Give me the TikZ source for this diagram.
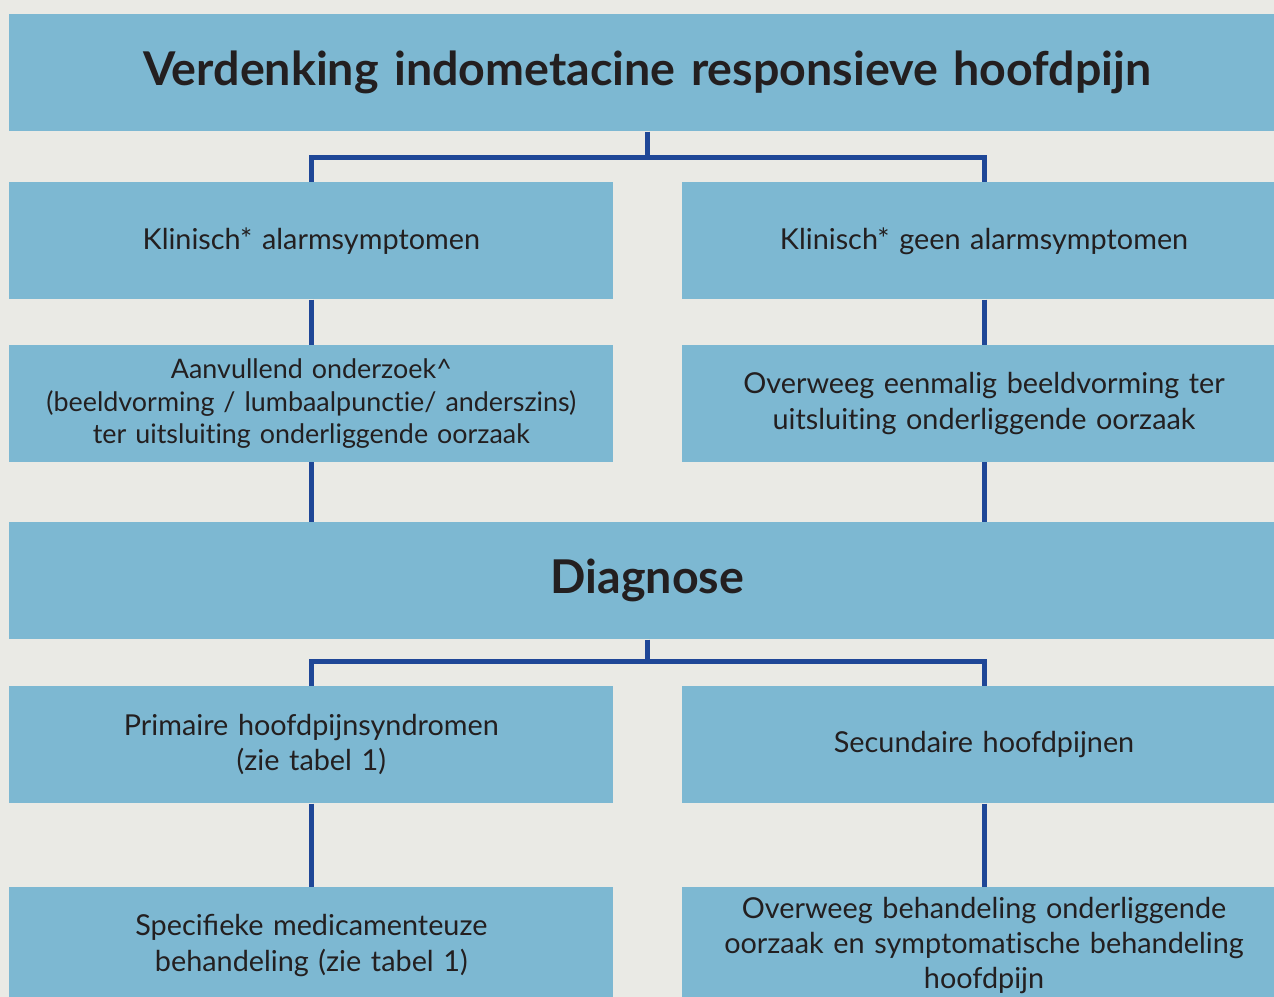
\documentclass[tikz,border=0pt]{standalone}
\usepackage{fontspec}
\setmainfont{Lato}
\usepackage{xcolor}
\usetikzlibrary{positioning,calc}
\definecolor{boxblue}{HTML}{7DB8D2}
\definecolor{linkblue}{HTML}{1F4797}
\definecolor{paper}{HTML}{EAEAE5}
\definecolor{ink}{HTML}{231F20}

\begin{document}
\begin{tikzpicture}[node distance=1.02cm and 1.36cm,
  box/.style={fill=boxblue, text=ink, inner sep=0pt, minimum height=2.34cm, text width=12.08cm, align=center, font=\fontsize{16.4}{20}\selectfont},
  wide/.style={box, text width=25.52cm, font=\fontsize{26.5}{30}\selectfont\bfseries},
  link/.style={draw=linkblue, line width=0.1cm}]
% Canvas
\fill[paper] (0,0) rectangle (25.48,-19.94);
\useasboundingbox (0,0) rectangle (25.48,-19.94);
\clip (0,0) rectangle (25.48,-19.94);

% Boxes
\node (verdenking) [wide, anchor=north west] at (0.18,-0.28) {Verdenking indometacine responsieve hoofdpijn};
\node (alarm) [box, anchor=north west] at (0.18,-3.64) {Klinisch* alarmsymptomen};
\node (geen) [box, right=of alarm] {Klinisch* geen alarmsymptomen};
\node (aanvullend) [box, below=0.9cm of alarm, font=\fontsize{15.3}{18.5}\selectfont] {Aanvullend onderzoek\textasciicircum\\(beeldvorming / lumbaalpunct\kern0pt ie/ anderszins)\\ter uitsluit\kern0pt ing onderliggende oorzaak};
\node (overweeg) [box, below=0.9cm of geen] {Overweeg eenmalig beeldvorming ter\\uitsluit\kern0pt ing onderliggende oorzaak};
\node (diagnose) [wide, anchor=north west] at (0.18,-10.44) {Diagnose};
\node (primair) [box, anchor=north west] at (0.18,-13.72) {Primaire hoofdpijnsyndromen\\(zie tabel 1)};
\node (secundair) [box, right=of primair] {Secundaire hoofdpijnen};
\node (specifiek) [box, below=1.66cm of primair] {Specifieke medicamenteuze\\behandeling (zie tabel 1)};
\node (behandeling) [box, below=1.66cm of secundair] {Overweeg behandeling onderliggende\\oorzaak en symptomat\kern0pt ische behandeling\\hoofdpijn};

% Links
\coordinate (split1) at ($(verdenking.south)+(0,-0.52)$);
\draw[link] (verdenking.south) -- (split1) -| (alarm.north);
\draw[link] (split1) -| (geen.north);
\draw[link] (alarm) -- (aanvullend);
\draw[link] (geen) -- (overweeg);
\draw[link] (aanvullend.south) -- (aanvullend.south |- diagnose.north);
\draw[link] (overweeg.south) -- (overweeg.south |- diagnose.north);
\coordinate (split2) at ($(diagnose.south)+(0,-0.44)$);
\draw[link] (diagnose.south) -- (split2) -| (primair.north);
\draw[link] (split2) -| (secundair.north);
\draw[link] (primair) -- (specifiek);
\draw[link] (secundair) -- (behandeling);

\end{tikzpicture}
\end{document}
